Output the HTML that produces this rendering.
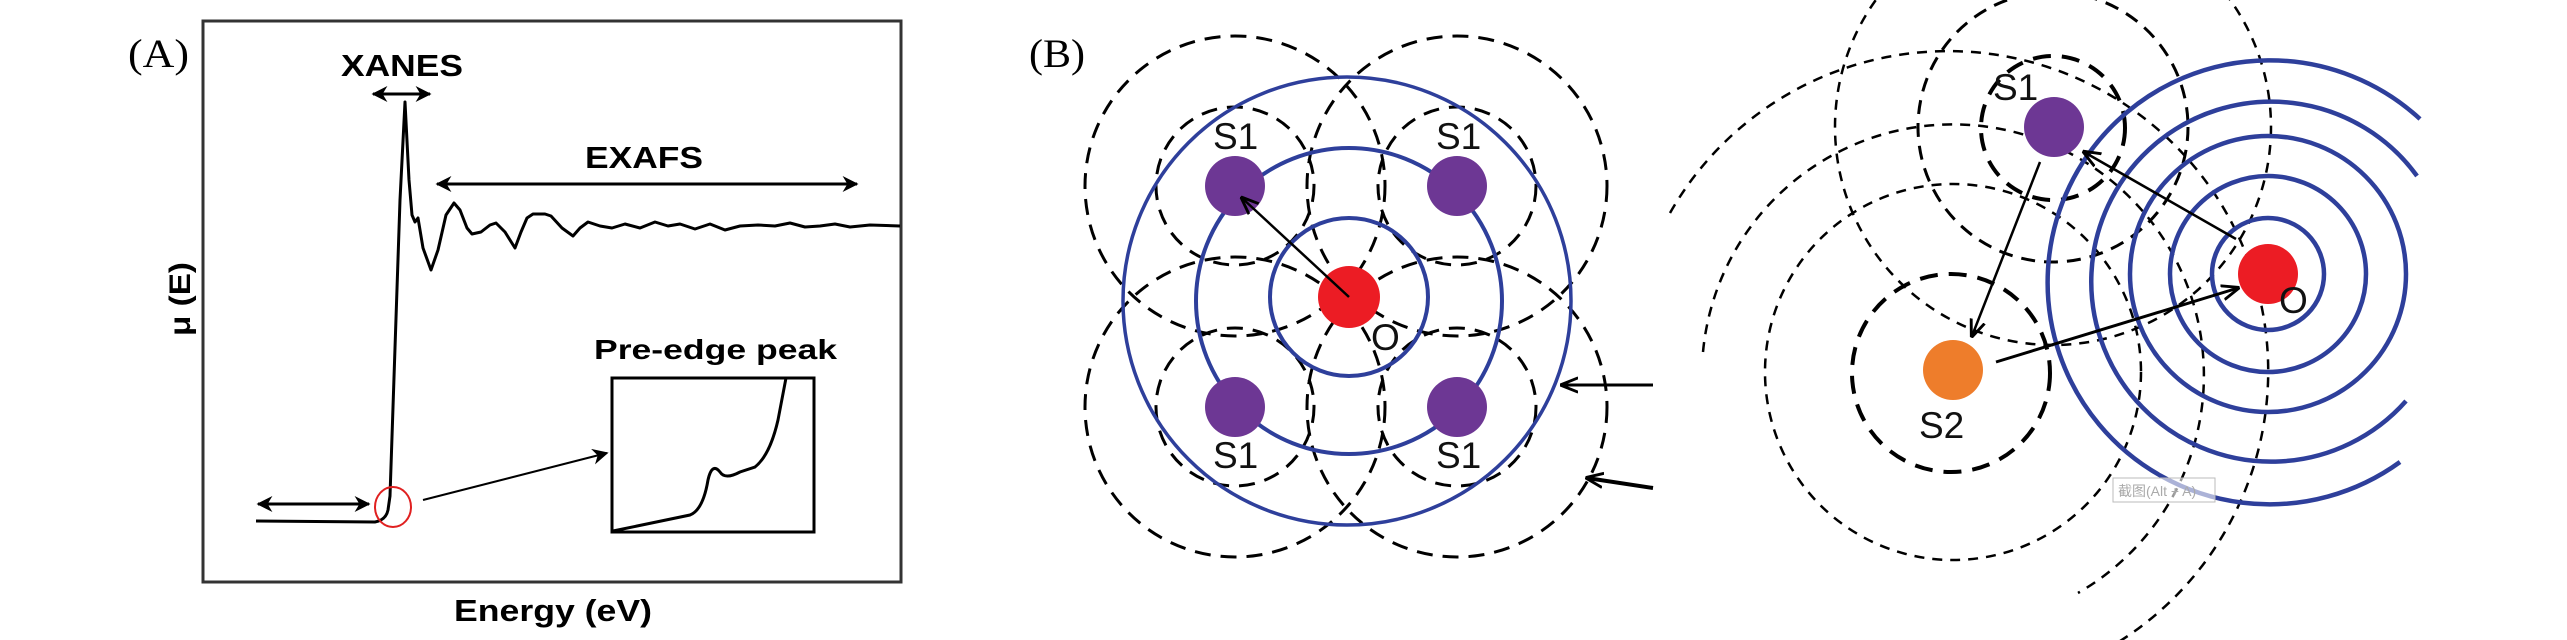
<!DOCTYPE html>
<html><head><meta charset="utf-8"><style>
html,body{margin:0;padding:0;background:#fff;width:2567px;height:640px;overflow:hidden;}
svg{display:block;}
</style></head><body>
<svg xmlns="http://www.w3.org/2000/svg" width="2567" height="640" viewBox="0 0 2567 640">
<defs>
<marker id="ah2" viewBox="0 0 10 10" refX="9" refY="5" markerWidth="18" markerHeight="18" orient="auto-start-reverse" markerUnits="userSpaceOnUse">
<path d="M0,1 L10,5 L0,9" fill="none" stroke="#000" stroke-width="1.6"/></marker>
<marker id="ah3" viewBox="0 0 10 10" refX="9" refY="5" markerWidth="16" markerHeight="16" orient="auto-start-reverse" markerUnits="userSpaceOnUse">
<path d="M0,0 L10,5 L0,10 L3,5 z" fill="#000"/></marker>
</defs>
<rect width="2567" height="640" fill="#fff"/>

<!-- Panel A -->
<text x="128" y="67" font-family="Liberation Serif, serif" font-size="40" textLength="61" lengthAdjust="spacingAndGlyphs">(A)</text>
<rect x="203" y="21" width="698" height="561" fill="none" stroke="#333" stroke-width="3"/>
<text x="341" y="76" font-family="Liberation Sans, sans-serif" font-weight="bold" font-size="31" textLength="122" lengthAdjust="spacingAndGlyphs">XANES</text>
<line x1="373" y1="94" x2="430" y2="94" stroke="#000" stroke-width="3" marker-start="url(#ah3)" marker-end="url(#ah3)"/>
<text x="585" y="168" font-family="Liberation Sans, sans-serif" font-weight="bold" font-size="31" textLength="118" lengthAdjust="spacingAndGlyphs">EXAFS</text>
<line x1="437" y1="184" x2="857" y2="184" stroke="#000" stroke-width="3" marker-start="url(#ah3)" marker-end="url(#ah3)"/>
<path d="M256,521 L375,522 Q386,520 388,510 L390,496 L400,200 L405,102 L409,180 L412,215 L415,222 L418,218 L423,248 L431,270 L438,250 L446,215 L454,203 L460,210 L467,228 L472,234 L481,232 L490,225 L496,223 L505,232 L515,248 L521,232 L527,218 L533,214 L545,214 L551,216 L562,228 L573,236 L580,228 L588,222 L600,226 L612,228 L625,224 L640,228 L655,222 L668,226 L680,224 L695,229 L710,224 L725,230 L740,226 L758,225 L775,226 L790,223 L805,227 L820,226 L835,224 L850,227 L870,225 L900,226" fill="none" stroke="#000" stroke-width="3" stroke-linejoin="round"/>
<line x1="258" y1="504" x2="369" y2="504" stroke="#000" stroke-width="3" marker-start="url(#ah3)" marker-end="url(#ah3)"/>
<ellipse cx="393" cy="507" rx="18" ry="20" fill="none" stroke="#e02020" stroke-width="2"/>
<line x1="423" y1="500" x2="607" y2="453" stroke="#000" stroke-width="2" marker-end="url(#ah3)"/>
<rect x="612" y="378" width="202" height="154" fill="none" stroke="#000" stroke-width="3"/>
<path d="M613,531 L690,515 Q703,510 708,480 Q712,462 720,472 Q725,480 740,472 L755,467 Q770,455 778,420 L786,378" fill="none" stroke="#000" stroke-width="3"/>
<text x="594" y="359" font-family="Liberation Sans, sans-serif" font-weight="bold" font-size="28" textLength="243" lengthAdjust="spacingAndGlyphs">Pre-edge peak</text>
<text transform="translate(190,299) rotate(-90)" text-anchor="middle" font-family="Liberation Sans, DejaVu Sans, sans-serif" font-weight="bold" font-size="30" textLength="74" lengthAdjust="spacingAndGlyphs">μ (E)</text>
<text x="454" y="621" font-family="Liberation Sans, sans-serif" font-weight="bold" font-size="31" textLength="198" lengthAdjust="spacingAndGlyphs">Energy (eV)</text>

<!-- Panel B left -->
<text x="1029" y="67" font-family="Liberation Serif, serif" font-size="40" textLength="56" lengthAdjust="spacingAndGlyphs">(B)</text>
<g fill="none" stroke="#000" stroke-width="3" stroke-dasharray="16 10">
<circle cx="1235" cy="186" r="79"/><circle cx="1235" cy="186" r="150"/>
<circle cx="1457" cy="186" r="79"/><circle cx="1457" cy="186" r="150"/>
<circle cx="1235" cy="407" r="79"/><circle cx="1235" cy="407" r="150"/>
<circle cx="1457" cy="407" r="79"/><circle cx="1457" cy="407" r="150"/>
</g>
<g fill="none" stroke="#2e3f9b" stroke-width="4">
<circle cx="1349" cy="297" r="79"/>
<circle cx="1349" cy="301" r="153"/>
<circle cx="1347" cy="301" r="224" stroke-width="3.5"/>
</g>
<g fill="#6d3794">
<circle cx="1235" cy="186" r="30"/><circle cx="1457" cy="186" r="30"/>
<circle cx="1235" cy="407" r="30"/><circle cx="1457" cy="407" r="30"/>
</g>
<circle cx="1349" cy="297" r="31" fill="#ec1c24"/>
<line x1="1349" y1="297" x2="1242" y2="198" stroke="#000" stroke-width="2.5" marker-end="url(#ah2)"/>
<g font-family="Liberation Sans, sans-serif" font-size="37" fill="#111">
<text x="1213" y="149">S1</text><text x="1436" y="149">S1</text>
<text x="1213" y="468">S1</text><text x="1436" y="468">S1</text>
<text x="1371" y="350">O</text>
</g>
<line x1="1653" y1="385" x2="1562" y2="385" stroke="#000" stroke-width="3" marker-end="url(#ah2)"/>
<line x1="1653" y1="488" x2="1587" y2="478" stroke="#000" stroke-width="4" marker-end="url(#ah2)"/>

<!-- Panel B right -->
<g fill="none" stroke="#000">
<g stroke-width="2.5" stroke-dasharray="10 8">
<circle cx="1953" cy="372" r="188"/>
<path d="M1703,352 A251 251 0 1 1 2078,593"/>
<path d="M1670,213 A320 320 0 1 1 1897,687"/>
<circle cx="2053" cy="127" r="218"/>
</g>
<g stroke-width="3" stroke-dasharray="14 9">
<circle cx="2053" cy="127" r="135"/>
</g>
<g stroke-width="4" stroke-dasharray="18 11">
<circle cx="1951" cy="373" r="99"/>
<circle cx="2053" cy="128" r="72"/>
</g>
</g>
<g fill="none" stroke="#2e3f9b" stroke-width="4.5">
<circle cx="2268" cy="274" r="56"/>
<circle cx="2268" cy="274" r="98"/>
<circle cx="2268" cy="274" r="138"/>
<path d="M2417,176 A180 180 0 1 0 2406,401"/>
<path d="M2420,119 A222 222 0 1 0 2400,462"/>
</g>
<circle cx="2054" cy="127" r="30" fill="#6d3794"/>
<circle cx="1953" cy="370" r="30" fill="#ee7d2b"/>
<circle cx="2268" cy="274" r="30" fill="#ec1c24"/>
<line x1="2236" y1="239" x2="2084" y2="152" stroke="#000" stroke-width="2.5" marker-end="url(#ah2)"/>
<line x1="2040" y1="162" x2="1972" y2="336" stroke="#000" stroke-width="2.5" marker-end="url(#ah2)"/>
<line x1="1996" y1="362" x2="2238" y2="288" stroke="#000" stroke-width="3" marker-end="url(#ah2)"/>
<g font-family="Liberation Sans, sans-serif" font-size="37" fill="#111">
<text x="1993" y="100">S1</text>
<text x="1919" y="438">S2</text>
<text x="2279" y="313">O</text>
</g>
<rect x="2113" y="478" width="102" height="24" fill="#fff" fill-opacity="0.6" stroke="#bbb" stroke-width="1"/>
<text x="2118" y="496" font-family="Liberation Sans, Noto Sans CJK SC, sans-serif" font-size="14" fill="#aaa">截图(Alt + A)</text>
</svg>
</body></html>
